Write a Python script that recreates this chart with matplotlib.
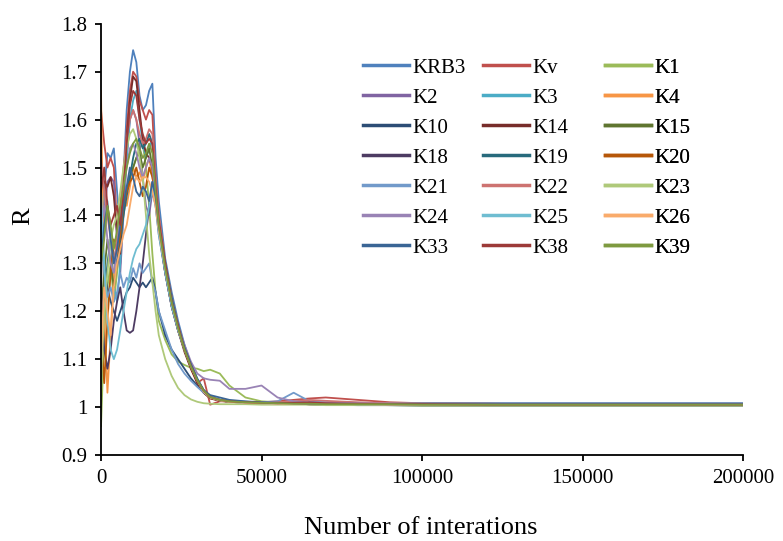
import matplotlib
matplotlib.use("Agg")
import matplotlib.pyplot as plt

# iteration checkpoints shared by every chain
iterations = [0, 1000, 2000, 3000, 4000, 5000, 6000, 7000, 8000, 9000,
              10000, 11000, 12000, 13000, 14000, 15000, 16000, 17000, 18000, 20000,
              22000, 24000, 26000, 28000, 30000, 32000, 34000, 37000, 40000, 45000,
              50000, 55000, 60000, 65000, 70000, 80000, 90000, 100000, 120000, 150000,
              200000]

KRB3 = [1.25, 1.45, 1.53, 1.52, 1.54, 1.45, 1.36, 1.48, 1.62, 1.70,
        1.745, 1.72, 1.65, 1.62, 1.63, 1.66, 1.675, 1.52, 1.43, 1.31,
        1.24, 1.18, 1.13, 1.09, 1.055, 1.03, 1.02, 1.015, 1.012, 1.011,
        1.01, 1.01, 1.009, 1.009, 1.009, 1.008, 1.008, 1.008, 1.008, 1.008, 1.008]
Kv = [1.62, 1.55, 1.50, 1.52, 1.50, 1.38, 1.30, 1.45, 1.58, 1.66,
      1.70, 1.69, 1.64, 1.62, 1.60, 1.62, 1.61, 1.48, 1.40, 1.30,
      1.23, 1.17, 1.12, 1.085, 1.05, 1.06, 1.005, 1.012, 1.012, 1.01,
      1.01, 1.012, 1.015, 1.018, 1.02, 1.015, 1.01, 1.008, 1.007, 1.005, 1.005]
K1 = [0.96, 1.15, 1.25, 1.30, 1.22, 1.28, 1.35, 1.40, 1.45, 1.48,
      1.50, 1.52, 1.54, 1.55, 1.50, 1.42, 1.32, 1.24, 1.18, 1.14,
      1.11, 1.095, 1.088, 1.082, 1.08, 1.075, 1.078, 1.07, 1.045, 1.02,
      1.012, 1.01, 1.008, 1.007, 1.007, 1.006, 1.006, 1.006, 1.006, 1.006, 1.006]
K2 = [1.30, 1.40, 1.47, 1.48, 1.47, 1.35, 1.28, 1.40, 1.52, 1.60,
      1.62, 1.60, 1.55, 1.48, 1.42, 1.40, 1.45, 1.42, 1.36, 1.28,
      1.21, 1.16, 1.12, 1.085, 1.055, 1.035, 1.02, 1.014, 1.012, 1.01,
      1.009, 1.008, 1.008, 1.007, 1.007, 1.006, 1.006, 1.005, 1.004, 1.004, 1.004]
K3 = [1.42, 1.44, 1.43, 1.35, 1.25, 1.22, 1.30, 1.42, 1.52, 1.60,
      1.64, 1.66, 1.60, 1.55, 1.52, 1.54, 1.56, 1.46, 1.39, 1.29,
      1.22, 1.17, 1.125, 1.09, 1.06, 1.035, 1.022, 1.015, 1.012, 1.01,
      1.009, 1.008, 1.007, 1.007, 1.006, 1.006, 1.006, 1.006, 1.005, 1.005, 1.005]
K4 = [1.66, 1.20, 1.03, 1.15, 1.28, 1.35, 1.40, 1.44, 1.42, 1.46,
      1.50, 1.48, 1.49, 1.47, 1.50, 1.52, 1.48, 1.44, 1.38, 1.29,
      1.22, 1.16, 1.12, 1.08, 1.05, 1.03, 1.018, 1.014, 1.011, 1.01,
      1.008, 1.007, 1.007, 1.006, 1.006, 1.006, 1.005, 1.005, 1.004, 1.004, 1.004]
K10 = [1.35, 1.30, 1.25, 1.22, 1.20, 1.18, 1.20, 1.22, 1.24, 1.25,
       1.27, 1.26, 1.25, 1.26, 1.25, 1.26, 1.27, 1.24, 1.20, 1.15,
       1.12, 1.10, 1.08, 1.06, 1.045, 1.03, 1.02, 1.015, 1.012, 1.01,
       1.009, 1.008, 1.007, 1.006, 1.005, 1.004, 1.004, 1.003, 1.003, 1.003, 1.003]
K14 = [1.48, 1.47, 1.46, 1.48, 1.44, 1.36, 1.32, 1.45, 1.56, 1.64,
       1.69, 1.68, 1.62, 1.56, 1.53, 1.52, 1.50, 1.43, 1.37, 1.28,
       1.21, 1.16, 1.115, 1.08, 1.05, 1.03, 1.018, 1.013, 1.011, 1.009,
       1.008, 1.007, 1.007, 1.006, 1.006, 1.006, 1.005, 1.005, 1.005, 1.005, 1.005]
K15 = [1.20, 1.28, 1.35, 1.30, 1.25, 1.30, 1.38, 1.42, 1.45, 1.48,
       1.50, 1.52, 1.53, 1.50, 1.52, 1.54, 1.50, 1.44, 1.38, 1.29,
       1.22, 1.165, 1.12, 1.085, 1.055, 1.032, 1.02, 1.014, 1.011, 1.01,
       1.008, 1.007, 1.007, 1.006, 1.006, 1.006, 1.005, 1.005, 1.005, 1.005, 1.005]
K18 = [1.25, 1.12, 1.08, 1.12, 1.18, 1.22, 1.25, 1.20, 1.16, 1.155,
       1.16, 1.20, 1.25, 1.30, 1.36, 1.42, 1.47, 1.43, 1.37, 1.28,
       1.21, 1.16, 1.12, 1.085, 1.055, 1.033, 1.02, 1.014, 1.011, 1.009,
       1.008, 1.007, 1.007, 1.007, 1.007, 1.007, 1.007, 1.007, 1.007, 1.007, 1.007]
K19 = [1.10, 1.22, 1.30, 1.35, 1.32, 1.30, 1.35, 1.40, 1.44, 1.48,
       1.52, 1.55, 1.56, 1.54, 1.55, 1.57, 1.55, 1.46, 1.39, 1.30,
       1.22, 1.17, 1.125, 1.09, 1.058, 1.035, 1.021, 1.015, 1.012, 1.01,
       1.008, 1.007, 1.007, 1.006, 1.005, 1.005, 1.004, 1.004, 1.004, 1.004, 1.004]
K20 = [1.15, 1.05, 1.18, 1.28, 1.35, 1.32, 1.36, 1.42, 1.45, 1.47,
       1.48, 1.50, 1.47, 1.44, 1.46, 1.50, 1.48, 1.44, 1.38, 1.30,
       1.23, 1.17, 1.125, 1.088, 1.056, 1.033, 1.02, 1.014, 1.011, 1.009,
       1.008, 1.007, 1.007, 1.006, 1.006, 1.006, 1.005, 1.005, 1.005, 1.005, 1.005]
K21 = [1.40, 1.28, 1.23, 1.25, 1.22, 1.24, 1.28, 1.25, 1.27, 1.26,
       1.29, 1.27, 1.30, 1.28, 1.29, 1.30, 1.26, 1.24, 1.20, 1.16,
       1.12, 1.09, 1.07, 1.055, 1.042, 1.03, 1.022, 1.016, 1.013, 1.011,
       1.01, 1.012, 1.03, 1.012, 1.01, 1.009, 1.008, 1.008, 1.007, 1.007, 1.007]
K22 = [1.52, 1.45, 1.40, 1.35, 1.30, 1.35, 1.42, 1.50, 1.56, 1.60,
       1.62, 1.60, 1.57, 1.55, 1.56, 1.58, 1.57, 1.47, 1.40, 1.30,
       1.22, 1.17, 1.12, 1.087, 1.056, 1.034, 1.021, 1.015, 1.012, 1.01,
       1.009, 1.01, 1.012, 1.015, 1.013, 1.01, 1.008, 1.007, 1.005, 1.005, 1.005]
K23 = [1.05, 1.20, 1.28, 1.35, 1.38, 1.40, 1.45, 1.50, 1.54, 1.57,
       1.58, 1.56, 1.52, 1.48, 1.40, 1.32, 1.26, 1.20, 1.15, 1.10,
       1.065, 1.04, 1.025, 1.016, 1.011, 1.008, 1.007, 1.006, 1.006, 1.006,
       1.005, 1.005, 1.005, 1.005, 1.004, 1.004, 1.004, 1.003, 1.003, 1.003, 1.003]
K24 = [1.38, 1.42, 1.35, 1.30, 1.28, 1.33, 1.40, 1.45, 1.50, 1.54,
       1.55, 1.53, 1.50, 1.48, 1.50, 1.52, 1.50, 1.44, 1.38, 1.30,
       1.23, 1.17, 1.13, 1.095, 1.07, 1.06, 1.057, 1.055, 1.038, 1.038,
       1.045, 1.02, 1.012, 1.01, 1.009, 1.008, 1.007, 1.006, 1.005, 1.005, 1.005]
K25 = [1.45, 1.30, 1.18, 1.12, 1.10, 1.12, 1.16, 1.20, 1.24, 1.28,
       1.31, 1.33, 1.34, 1.36, 1.38, 1.42, 1.46, 1.42, 1.36, 1.28,
       1.21, 1.16, 1.12, 1.085, 1.055, 1.033, 1.02, 1.014, 1.011, 1.009,
       1.008, 1.007, 1.007, 1.006, 1.006, 1.006, 1.005, 1.005, 1.005, 1.005, 1.005]
K26 = [1.10, 1.25, 1.20, 1.15, 1.25, 1.30, 1.33, 1.36, 1.38, 1.42,
       1.46, 1.48, 1.47, 1.48, 1.48, 1.47, 1.45, 1.42, 1.37, 1.29,
       1.22, 1.165, 1.12, 1.085, 1.055, 1.032, 1.02, 1.014, 1.011, 1.009,
       1.008, 1.007, 1.007, 1.006, 1.006, 1.006, 1.005, 1.005, 1.005, 1.005, 1.005]
K33 = [1.30, 1.38, 1.42, 1.35, 1.30, 1.33, 1.38, 1.42, 1.46, 1.50,
       1.48, 1.45, 1.44, 1.46, 1.45, 1.43, 1.47, 1.44, 1.38, 1.30,
       1.23, 1.17, 1.125, 1.09, 1.058, 1.035, 1.025, 1.02, 1.015, 1.012,
       1.01, 1.009, 1.008, 1.007, 1.007, 1.006, 1.006, 1.006, 1.006, 1.006, 1.006]
K38 = [1.45, 1.50, 1.42, 1.38, 1.40, 1.42, 1.38, 1.45, 1.55, 1.63,
       1.66, 1.65, 1.60, 1.57, 1.55, 1.56, 1.55, 1.46, 1.39, 1.30,
       1.22, 1.17, 1.12, 1.086, 1.055, 1.034, 1.021, 1.015, 1.012, 1.01,
       1.009, 1.008, 1.009, 1.01, 1.008, 1.007, 1.006, 1.006, 1.005, 1.005, 1.005]
K39 = [1.30, 1.35, 1.42, 1.38, 1.33, 1.37, 1.42, 1.46, 1.50, 1.53,
       1.55, 1.56, 1.54, 1.52, 1.53, 1.55, 1.53, 1.45, 1.38, 1.29,
       1.22, 1.165, 1.12, 1.085, 1.056, 1.034, 1.021, 1.015, 1.012, 1.01,
       1.009, 1.008, 1.007, 1.007, 1.006, 1.006, 1.006, 1.005, 1.005, 1.005, 1.005]

names = ["KRB3", "Kv", "K1", "K2", "K3", "K4", "K10", "K14", "K15", "K18", "K19",
         "K20", "K21", "K22", "K23", "K24", "K25", "K26", "K33", "K38", "K39"]
chains = [KRB3, Kv, K1, K2, K3, K4, K10, K14, K15, K18, K19,
          K20, K21, K22, K23, K24, K25, K26, K33, K38, K39]
colors = ["#4F81BD", "#C0504D", "#9BBB59", "#8064A2", "#4BACC6", "#F79646",
          "#2C4D75", "#772C2A", "#5F7530", "#4D3B62", "#276A7C", "#B65708",
          "#729ACA", "#CD7371", "#AFC97A", "#9983B5", "#6FBDD1", "#F9AB6B",
          "#3A6595", "#9C3A38", "#7E9A40"]

plt.rcParams["font.family"] = ["Liberation Serif", "DejaVu Serif"]
plt.rcParams["font.size"] = 15

fig = plt.figure(figsize=(7.83, 5.41), dpi=100)
ax = fig.add_axes([0.129, 0.159, 0.820, 0.797])

lines = []
for name, vals, c in zip(names, chains, colors):
    assert len(vals) == len(iterations), name
    ln, = ax.plot(iterations, vals, color=c, lw=1.3, label=name)
    lines.append(ln)

ax.set_xlim(0, 200000)
ax.set_ylim(0.9, 1.8)
ax.set_xticks([0, 50000, 100000, 150000, 200000])
ax.set_xticklabels(["0", "50000", "100000", "150000", "200000"])
ax.set_yticks([0.9, 1.0, 1.1, 1.2, 1.3, 1.4, 1.5, 1.6, 1.7, 1.8])
ax.set_yticklabels(["0.9", "1", "1.1", "1.2", "1.3", "1.4", "1.5", "1.6", "1.7", "1.8"])
for side in ("top", "right"):
    ax.spines[side].set_visible(False)
for side in ("left", "bottom"):
    ax.spines[side].set_linewidth(1.3)
ax.tick_params(direction="out", length=4, width=1.3, pad=6)

fig.text(421 / 783, 1 - 528 / 541, "Number of interations", ha="center",
         va="center", fontsize=19)
fig.text(23 / 783, 1 - 216 / 541, "R", ha="center", va="center",
         rotation=90, fontsize=19)

# three single-column legends so every column sits at an even spacing
col_x = [363, 483, 605]
for i, x0 in enumerate(col_x):
    hs = lines[i::3]
    leg = ax.legend(hs, [h.get_label() for h in hs], loc="upper left",
                    bbox_to_anchor=(x0 / 783, 1 - 58 / 541),
                    bbox_transform=fig.transFigure, frameon=False,
                    borderpad=0, borderaxespad=0, handlelength=2.2,
                    handletextpad=0.15, labelspacing=0.5, fontsize=15)
    for h in leg.get_lines():
        h.set_linewidth(2.5)
    ax.add_artist(leg)

fig.savefig("out.png", dpi=100)
